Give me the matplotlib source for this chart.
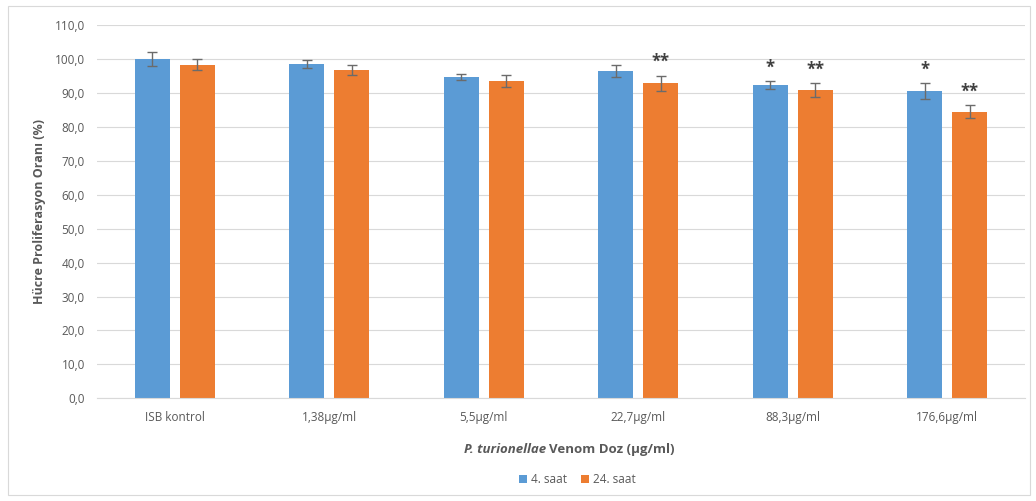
import matplotlib
matplotlib.use("Agg")
import matplotlib.pyplot as plt
import numpy as np
from matplotlib.patches import Rectangle

categories = ["ISB kontrol", "1,38µg/ml", "5,5µg/ml", "22,7µg/ml", "88,3µg/ml", "176,6µg/ml"]
saat4 = [100.0, 98.5, 94.7, 96.5, 92.3, 90.6]
saat4_err = [2.0, 1.3, 1.0, 1.7, 1.2, 2.3]
saat24 = [98.3, 96.7, 93.5, 92.9, 90.8, 84.4]
saat24_err = [1.6, 1.5, 1.9, 2.2, 2.0, 1.9]
sig4 = ["", "", "", "", "*", "*"]
sig24 = ["", "", "", "**", "**", "**"]
yticks = np.arange(0, 111, 10)

plt.rcParams['font.family'] = ['Open Sans', 'DejaVu Sans']
blue = "#5b9bd5"
orange = "#ed7d31"
txt = "#595959"

fig = plt.figure(figsize=(10.36, 5.01), dpi=100)
ax = fig.add_axes([0.094, 0.205, 0.895, 0.745])

x = np.arange(len(categories))
w = 0.226
off = 0.145
b1 = ax.bar(x - off, saat4, w, color=blue, label="4. saat", zorder=2)
b2 = ax.bar(x + off, saat24, w, color=orange, label="24. saat", zorder=2)
ekw = dict(ecolor="#6b6b6b", elinewidth=1.0, capsize=3.5, capthick=1.0, fmt="none", zorder=3)
ax.errorbar(x - off, saat4, yerr=saat4_err, **ekw)
ax.errorbar(x + off, saat24, yerr=saat24_err, **ekw)

for xi, v, e, s in zip(x - off, saat4, saat4_err, sig4):
    if s:
        ax.text(xi, v + e + 1.3, s, ha="center", va="bottom", fontsize=12, fontweight="bold", color="#404040")
for xi, v, e, s in zip(x + off, saat24, saat24_err, sig24):
    if s:
        ax.text(xi, v + e + 1.3, s, ha="center", va="bottom", fontsize=12, fontweight="bold", color="#404040")

ax.set_ylim(0, 110)
ax.set_xlim(-0.5, len(categories) - 0.5)
ax.set_yticks(yticks)
ax.set_yticklabels([f"{v:.1f}".replace(".", ",") for v in yticks], color=txt, fontsize=8.5)
ax.set_xticks(x)
ax.set_xticklabels(categories, color=txt, fontsize=8.5)
ax.tick_params(axis="both", length=0, pad=9)
ax.yaxis.grid(True, color="#d9d9d9", linewidth=0.8, zorder=0)
ax.set_axisbelow(True)
for sp in ["top", "right", "left"]:
    ax.spines[sp].set_visible(False)
ax.spines["bottom"].set_color("#d9d9d9")

ax.set_ylabel("Hücre Proliferasyon Oranı (%)", fontsize=9, fontweight="bold", color=txt, labelpad=6)

fig.text(0.5275, 0.103, "P. turionellae", ha="right", va="center", fontsize=9.5,
         fontweight="bold", fontstyle="italic", color=txt)
fig.text(0.5295, 0.103, "Venom Doz (µg/ml)", ha="left", va="center", fontsize=9.5, fontweight="bold", color=txt)

leg = fig.legend(handles=[b1, b2], loc="center", bbox_to_anchor=(0.557, 0.042), ncol=2, frameon=False,
                 fontsize=8.5, handlelength=0.7, handleheight=0.7, columnspacing=1.2, handletextpad=0.3)
for t in leg.get_texts():
    t.set_color(txt)

fig.patches.append(Rectangle((0.008, 0.012), 0.986, 0.976, transform=fig.transFigure,
                             fill=False, edgecolor="#d9d9d9", linewidth=0.8))

fig.savefig("out.png", dpi=100)
